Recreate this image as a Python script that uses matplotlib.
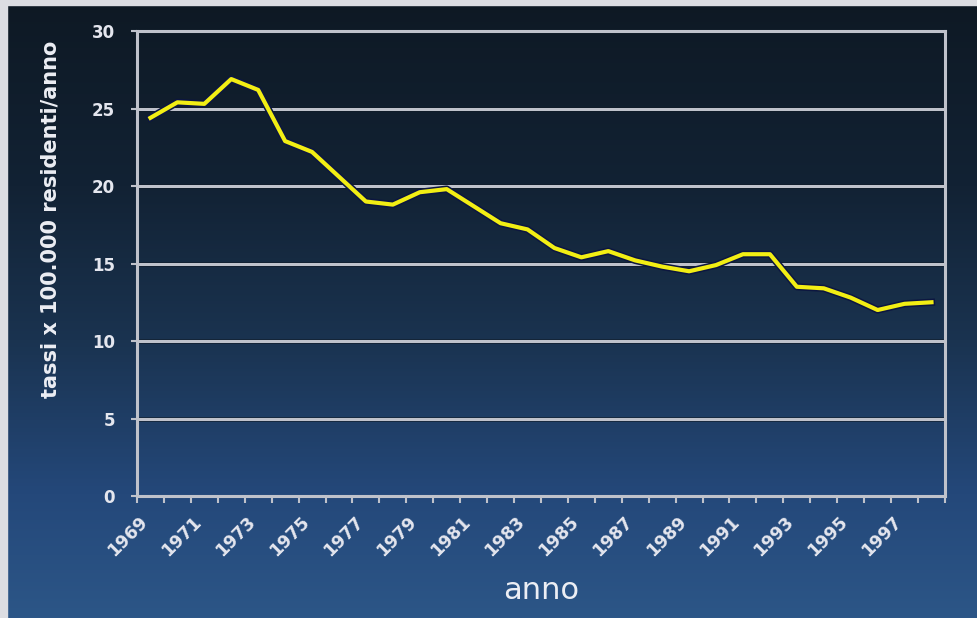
import numpy as np
import matplotlib
matplotlib.use("Agg")
import matplotlib.pyplot as plt
from matplotlib.colors import LinearSegmentedColormap
import matplotlib.patheffects as pe

# dati: tassi x 100.000 residenti/anno, 1969-1998
anni = list(range(1969, 1999))
tassi = [24.4, 25.4, 25.3, 26.9, 26.2, 22.9, 22.2, 20.6, 19.0, 18.8,
         19.6, 19.8, 18.7, 17.6, 17.2, 16.0, 15.4, 15.8, 15.2, 14.8,
         14.5, 14.9, 15.6, 15.6, 13.5, 13.4, 12.8, 12.0, 12.4, 12.5]
etichette_y = [0, 5, 10, 15, 20, 25, 30]

fig = plt.figure(figsize=(9.77, 6.18), dpi=100)

# sfondo sfumato blu
sfondo = fig.add_axes([0, 0, 1, 1], zorder=0)
cmap = LinearSegmentedColormap.from_list(
    "blu", [(0.0, "#0e1924"), (0.3, "#122234"), (0.55, "#1a3350"),
            (0.8, "#24487a"), (1.0, "#2c5687")])
grad = np.linspace(0, 1, 256).reshape(-1, 1)
sfondo.imshow(grad, aspect="auto", cmap=cmap, extent=[0, 1, 0, 1],
              origin="upper")
sfondo.set_axis_off()
# bordi chiari in alto e a sinistra
fig.patches.append(plt.Rectangle((0, 0), 7 / 977, 1, transform=fig.transFigure,
                                 color="#dcdde2", zorder=1))
fig.patches.append(plt.Rectangle((0, 1 - 5 / 618), 1, 5 / 618,
                                 transform=fig.transFigure,
                                 color="#dcdde2", zorder=1))

ax = fig.add_axes([0.1402, 0.1974, 0.8270, 0.7524], zorder=2)
ax.set_facecolor("none")

x = np.arange(len(anni))
griglia = "#bfc2cb"
for v in etichette_y[1:-1]:
    ax.axhline(v, color="#0a1420", lw=3.5, alpha=0.6, zorder=1)
    ax.axhline(v, color=griglia, lw=2.2, zorder=2)

ax.plot(x, tassi, color="#f2ee14", lw=3.0, zorder=5, solid_joinstyle="round",
        path_effects=[pe.Stroke(linewidth=5.2, foreground="#0c1640"),
                      pe.Normal()])

ax.set_xlim(-0.5, len(anni) - 0.5)
ax.set_ylim(0, 30)

for s in ax.spines.values():
    s.set_color(griglia)
    s.set_linewidth(2.2)

ax.set_yticks(etichette_y)
ax.set_yticklabels([str(v) for v in etichette_y], color="#e4e6ee",
                   fontsize=12, fontweight="bold")
ax.tick_params(axis="y", length=4, width=1.5, color=griglia, pad=12)

# etichette un po' a sinistra del centro della categoria, come nell'originale
ax.set_xticks(x[::2] - 0.45)
ax.set_xticklabels([str(a) for a in anni[::2]], rotation=45, ha="right",
                   rotation_mode="anchor", color="#e4e6ee", fontsize=12.5,
                   fontweight="bold")
ax.tick_params(axis="x", which="major", length=0, pad=12)
ax.set_xticks(np.arange(-0.5, len(anni)), minor=True)
ax.tick_params(axis="x", which="minor", length=5, width=1.5, color=griglia)

ax.set_ylabel("tassi x 100.000 residenti/anno", color="#eceef4",
              fontsize=15, fontweight="bold")
ax.yaxis.set_label_coords(-0.095, 0.594)
ax.set_xlabel("anno", color="#eceef4", fontsize=22, labelpad=12)

fig.savefig("out.png", dpi=100)
